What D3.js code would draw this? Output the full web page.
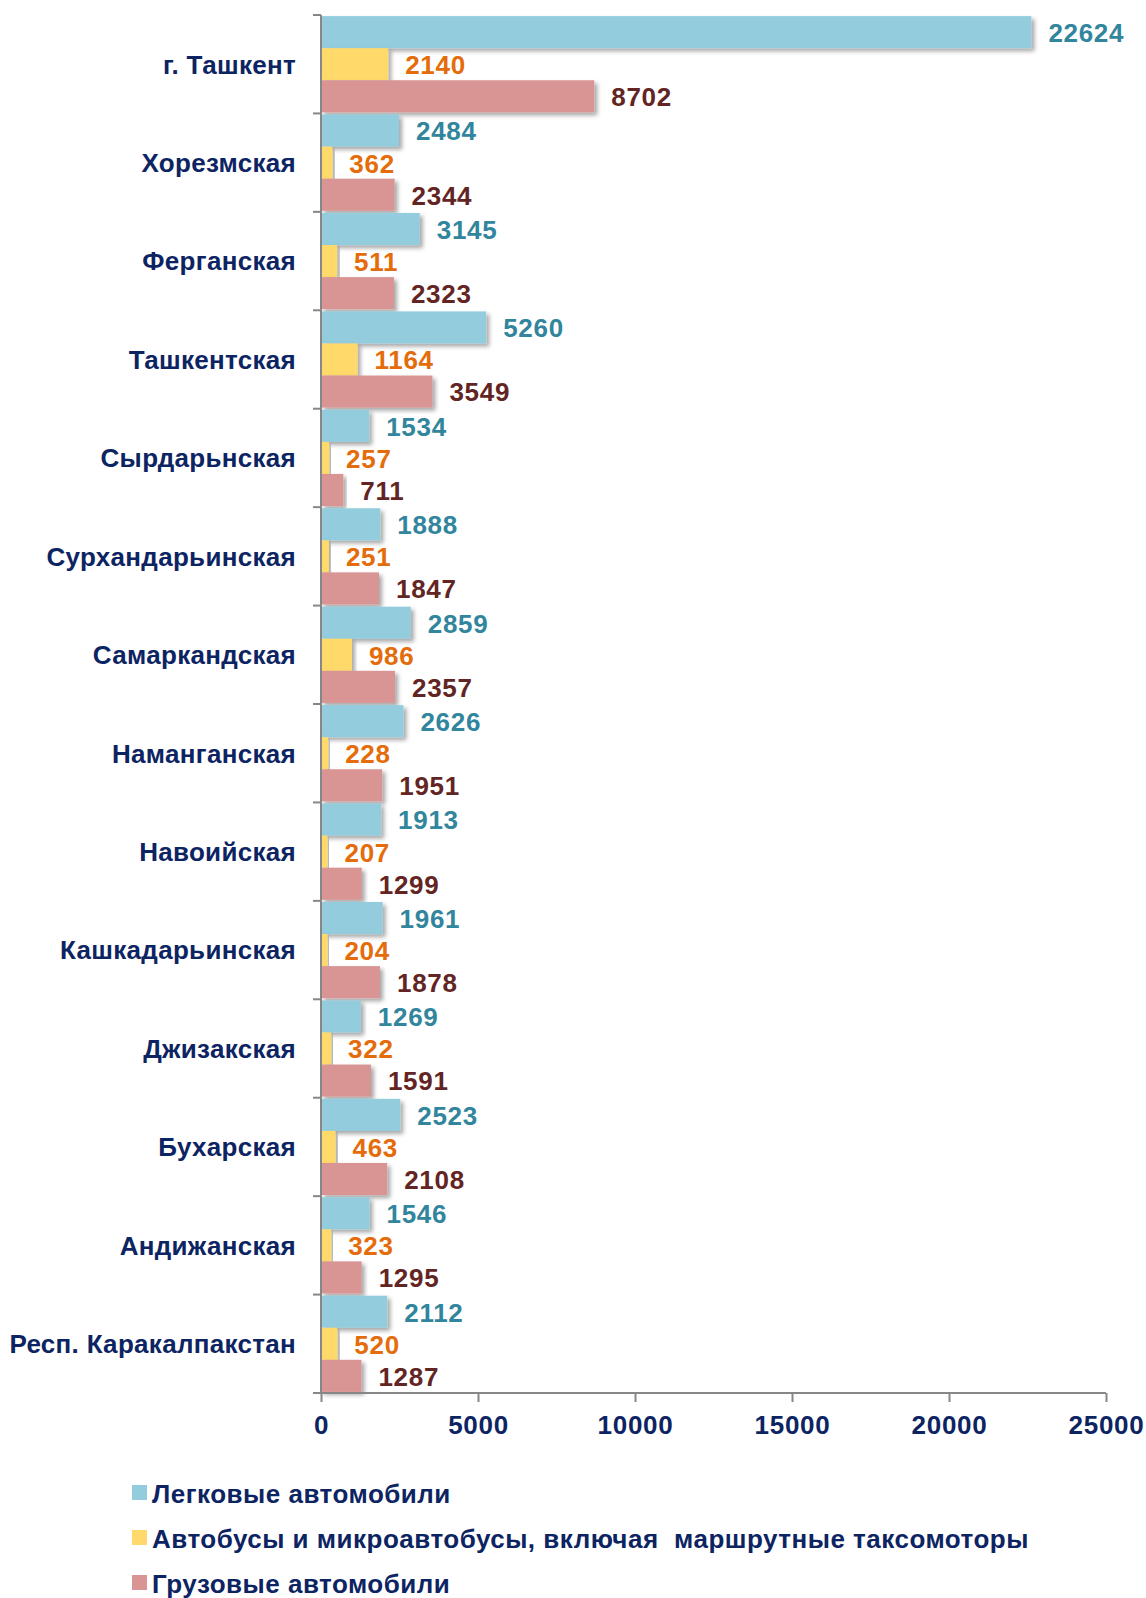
<!DOCTYPE html>
<html>
<head>
<meta charset="utf-8">
<script src="https://cdn.jsdelivr.net/npm/d3@7"></script>
<style>
  html, body { margin: 0; padding: 0; background: #ffffff; }
  svg { display: block; font-family: "Liberation Sans", Arial, sans-serif; }
</style>
</head>
<body>
<svg id="chart" width="1146" height="1598"></svg>
<script>
// Regions, top to bottom
const categories = [
  "г. Ташкент", "Хорезмская", "Ферганская", "Ташкентская", "Сырдарьнская",
  "Сурхандарьинская", "Самаркандская", "Наманганская", "Навоийская",
  "Кашкадарьинская", "Джизакская", "Бухарская", "Андижанская", "Респ. Каракалпакстан"
];
// Vehicle counts per region
const cars   = [22624, 2484, 3145, 5260, 1534, 1888, 2859, 2626, 1913, 1961, 1269, 2523, 1546, 2112];
const buses  = [2140, 362, 511, 1164, 257, 251, 986, 228, 207, 204, 322, 463, 323, 520];
const trucks = [8702, 2344, 2323, 3549, 711, 1847, 2357, 1951, 1299, 1878, 1591, 2108, 1295, 1287];

const seriesNames = [
  "Легковые автомобили",
  "Автобусы и микроавтобусы, включая  маршрутные таксомоторы",
  "Грузовые автомобили"
];
const xTicks = [0, 5000, 10000, 15000, 20000, 25000];

const barColors   = ["#93CDDD", "#FFD96B", "#D99594"];
const labelColors = ["#31859C", "#E46C0A", "#632523"];
const navy = "#0D2463";
const axisColor = "#878787";

const series = [cars, buses, trucks].map((vals, i) => ({ name: seriesNames[i], values: vals, idx: i }));

const svg = d3.select("#chart");
const plotLeft = 321, plotRight = 1106, plotTop = 15, plotBottom = 1393;

const x = d3.scaleLinear().domain([0, 25000]).range([plotLeft, plotRight]);
const y = d3.scaleBand().domain(categories).range([plotTop, plotBottom]).paddingInner(0).paddingOuter(0);
const ySub = d3.scaleBand().domain([0, 1, 2]).range([0, y.bandwidth()]).paddingInner(0).paddingOuter(0.035);

// soft drop shadow under bars
const defs = svg.append("defs");
const f = defs.append("filter").attr("id", "shadow").attr("x", "-5%").attr("y", "-20%").attr("width", "120%").attr("height", "160%");
f.append("feDropShadow").attr("dx", 3).attr("dy", 3).attr("stdDeviation", 2)
  .attr("flood-color", "#000").attr("flood-opacity", 0.35);

// bars
const groups = svg.append("g").selectAll("g.cat")
  .data(categories)
  .join("g")
  .attr("class", "cat")
  .attr("transform", d => `translate(0,${y(d)})`);

groups.each(function(cat, ci) {
  const g = d3.select(this);
  series.forEach(s => {
    g.append("rect")
      .attr("x", x(0))
      .attr("y", ySub(s.idx))
      .attr("width", x(s.values[ci]) - x(0))
      .attr("height", ySub.bandwidth())
      .attr("fill", barColors[s.idx])
      .attr("filter", "url(#shadow)");
  });
  series.forEach(s => {
    g.append("text")
      .attr("x", x(s.values[ci]) + 17)
      .attr("y", ySub(s.idx) + ySub.bandwidth() / 2)
      .attr("dy", "0.38em")
      .attr("font-size", 26)
      .attr("letter-spacing", 0.7)
      .attr("font-weight", "bold")
      .attr("fill", labelColors[s.idx])
      .text(s.values[ci]);
  });
});

// y axis with category labels
const yAxis = svg.append("g").attr("transform", `translate(${plotLeft},0)`);
yAxis.append("line").attr("x1", 0).attr("x2", 0).attr("y1", plotTop).attr("y2", plotBottom)
  .attr("stroke", axisColor).attr("stroke-width", 2);
const boundaries = categories.map(c => y(c)).concat([plotBottom]);
yAxis.selectAll("line.tick").data(boundaries).join("line")
  .attr("class", "tick")
  .attr("x1", -8).attr("x2", 0)
  .attr("y1", d => d).attr("y2", d => d)
  .attr("stroke", axisColor).attr("stroke-width", 2);
yAxis.selectAll("text").data(categories).join("text")
  .attr("x", -25)
  .attr("y", d => y(d) + y.bandwidth() / 2)
  .attr("dy", "0.36em")
  .attr("text-anchor", "end")
  .attr("font-size", 26)
  .attr("letter-spacing", 0.3)
  .attr("font-weight", "bold")
  .attr("fill", navy)
  .text(d => d);

// x axis
const xAxis = svg.append("g").attr("transform", `translate(0,${plotBottom})`)
  .call(d3.axisBottom(x).tickValues(xTicks).tickSize(9).tickPadding(9).tickFormat(d3.format("d")));
xAxis.select(".domain").attr("stroke", axisColor).attr("stroke-width", 2)
  .attr("d", `M${plotLeft - 8},0H${plotRight}`);
xAxis.selectAll(".tick line").attr("stroke", axisColor).attr("stroke-width", 2);
xAxis.selectAll(".tick text")
  .attr("font-family", "Liberation Sans, Arial, sans-serif")
  .attr("font-size", 26)
  .attr("letter-spacing", 0.7)
  .attr("font-weight", "bold")
  .attr("fill", navy)
  .attr("dy", "0.9em");

// legend
const legend = svg.append("g").attr("transform", "translate(132,0)");
const legendBaselines = [1503, 1548, 1593];
series.forEach((s, i) => {
  legend.append("rect")
    .attr("x", 0).attr("y", legendBaselines[i] - 18)
    .attr("width", 15).attr("height", 15)
    .attr("fill", barColors[i]);
  legend.append("text")
    .attr("x", 20).attr("y", legendBaselines[i])
    .attr("font-size", 26)
    .attr("letter-spacing", 0.5)
    .attr("font-weight", "bold")
    .attr("fill", navy)
    .style("white-space", "pre")
    .text(s.name);
});
</script>
</body>
</html>
